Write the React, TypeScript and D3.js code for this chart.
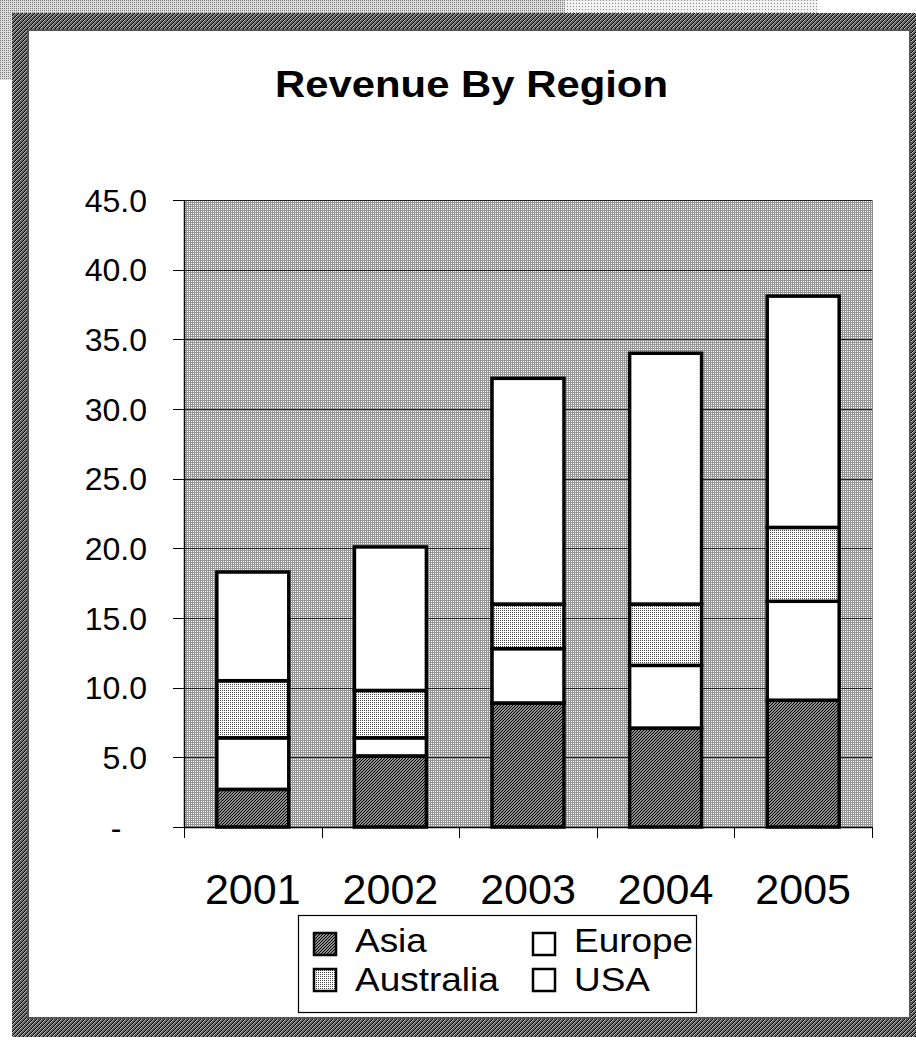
import React from "react";
import * as d3 from "d3";

const years = ["2001", "2002", "2003", "2004", "2005"];
const asia = [2.7, 5.1, 8.9, 7.1, 9.1];
const europe = [3.7, 1.3, 3.9, 4.5, 7.1];
const australia = [4.1, 3.4, 3.2, 4.4, 5.3];
const usa = [7.8, 10.3, 16.2, 18.0, 16.6];
const seriesKeys = ["Asia", "Europe", "Australia", "USA"];
const yTicks = [0, 5, 10, 15, 20, 25, 30, 35, 40, 45];
const legendOrder = [
  ["Asia", "Europe"],
  ["Australia", "USA"],
];
const title = "Revenue By Region";

const W = 916;
const H = 1042;
const plot = { left: 184, right: 872, top: 200, bottom: 827 };
const FONT = "'Liberation Sans', Arial, Helvetica, sans-serif";

const fills: Record<string, string> = {
  Asia: "url(#patAsia)",
  Europe: "#ffffff",
  Australia: "url(#patAus)",
  USA: "#ffffff",
};

export default function App() {
  const rows = years.map((y, i) => ({
    year: y,
    Asia: asia[i],
    Europe: europe[i],
    Australia: australia[i],
    USA: usa[i],
  }));
  const stacked = d3.stack<any>().keys(seriesKeys)(rows);

  const x = d3
    .scaleBand<string>()
    .domain(years)
    .range([plot.left, plot.right])
    .paddingInner(0)
    .paddingOuter(0);
  const y = d3.scaleLinear().domain([0, 45]).range([plot.bottom, plot.top]);
  const barW = x.bandwidth() * 0.523;

  const fmt = (v: number) => (v === 0 ? "-" : d3.format(".1f")(v));

  return (
    <svg
      width={W}
      height={H}
      style={{ position: "absolute", left: 0, top: 0, display: "block" }}
      xmlns="http://www.w3.org/2000/svg"
    >
      <defs>
        <pattern id="patBg" width="2" height="2" patternUnits="userSpaceOnUse">
          <rect width="2" height="2" fill="#959595" shapeRendering="crispEdges" />
          <rect x="1" y="1" width="1" height="1" fill="#ffffff" shapeRendering="crispEdges" />
        </pattern>
        <pattern id="patAus" width="2" height="2" patternUnits="userSpaceOnUse">
          <rect width="2" height="2" fill="#ffffff" shapeRendering="crispEdges" />
          <rect x="0" y="0" width="1" height="1" fill="#4a4a4a" shapeRendering="crispEdges" />
        </pattern>
        <pattern id="patAsia" width="3" height="3" patternUnits="userSpaceOnUse">
          <rect width="3" height="3" fill="#8e8e8e" shapeRendering="crispEdges" />
          <rect x="2" y="0" width="1" height="1" fill="#000" shapeRendering="crispEdges" />
          <rect x="1" y="1" width="1" height="1" fill="#000" shapeRendering="crispEdges" />
          <rect x="0" y="2" width="1" height="1" fill="#000" shapeRendering="crispEdges" />
        </pattern>
        <pattern id="patFrame" width="4" height="4" patternUnits="userSpaceOnUse">
          <rect width="4" height="4" fill="#5e5e5e" shapeRendering="crispEdges" />
          <rect x="3" y="0" width="1" height="1" fill="#000" shapeRendering="crispEdges" />
          <rect x="2" y="1" width="1" height="1" fill="#000" shapeRendering="crispEdges" />
          <rect x="1" y="2" width="1" height="1" fill="#000" shapeRendering="crispEdges" />
          <rect x="0" y="3" width="1" height="1" fill="#000" shapeRendering="crispEdges" />
          <rect x="0" y="0" width="1" height="1" fill="#b8b8b8" shapeRendering="crispEdges" />
          <rect x="3" y="1" width="1" height="1" fill="#b8b8b8" shapeRendering="crispEdges" />
          <rect x="2" y="2" width="1" height="1" fill="#b8b8b8" shapeRendering="crispEdges" />
          <rect x="1" y="3" width="1" height="1" fill="#b8b8b8" shapeRendering="crispEdges" />
        </pattern>
        <pattern id="patLight" width="2" height="2" patternUnits="userSpaceOnUse">
          <rect width="2" height="2" fill="#dedede" shapeRendering="crispEdges" />
          <rect x="0" y="0" width="1" height="1" fill="#7a7a7a" shapeRendering="crispEdges" />
        </pattern>
        <pattern id="patLighter" width="3" height="3" patternUnits="userSpaceOnUse">
          <rect width="3" height="3" fill="#f2f2f2" shapeRendering="crispEdges" />
          <rect x="0" y="0" width="1" height="1" fill="#8a8a8a" shapeRendering="crispEdges" />
        </pattern>
      </defs>

      <rect width={W} height={H} fill="#ffffff" />

      {/* light background artifacts at top-left */}
      <rect x={0} y={0} width={565} height={13} fill="url(#patLight)" />
      <rect x={565} y={0} width={253} height={13} fill="url(#patLighter)" />
      <rect x={0} y={0} width={12} height={80} fill="url(#patLight)" />

      {/* frame */}
      <rect x={12} y={13} width={W - 12} height={1037 - 13} fill="url(#patFrame)" shapeRendering="crispEdges" />
      <rect x={28} y={30} width={910 - 28} height={1018 - 30} fill="#ffffff" stroke="#555" strokeWidth={1.5} shapeRendering="crispEdges" />

      {/* title */}
      <text
        x={471.5}
        y={97}
        textAnchor="middle"
        fontFamily={FONT}
        fontWeight="bold"
        fontSize={37}
        textLength={393}
        lengthAdjust="spacingAndGlyphs"
        fill="#000"
      >
        {title}
      </text>

      {/* plot area */}
      <rect
        x={plot.left}
        y={plot.top}
        width={plot.right - plot.left}
        height={plot.bottom - plot.top}
        fill="url(#patBg)"
        stroke="#888"
        strokeWidth={1}
        shapeRendering="crispEdges"
      />

      {/* gridlines */}
      {yTicks
        .filter((t) => t > 0)
        .map((t) => (
          <line
            key={"g" + t}
            x1={plot.left}
            x2={plot.right}
            y1={Math.round(y(t)) + 0.5}
            y2={Math.round(y(t)) + 0.5}
            stroke="#222"
            strokeWidth={1}
          />
        ))}

      {/* bars */}
      {stacked.map((s) =>
        s.map((d, i) => {
          const yr = years[i];
          const cx = (x(yr) as number) + x.bandwidth() / 2;
          const y0 = y(d[0]);
          const y1 = y(d[1]);
          return (
            <rect
              key={s.key + yr}
              x={cx - barW / 2}
              y={y1}
              width={barW}
              height={y0 - y1}
              fill={fills[s.key]}
              stroke="#000"
              strokeWidth={3.5}
            />
          );
        })
      )}

      {/* axes */}
      <line x1={plot.left + 0.5} x2={plot.left + 0.5} y1={plot.top} y2={plot.bottom} stroke="#000" strokeWidth={1.5} />
      <line x1={plot.left} x2={plot.right} y1={plot.bottom + 0.5} y2={plot.bottom + 0.5} stroke="#000" strokeWidth={1.5} />

      {yTicks.map((t) => (
        <g key={"yt" + t}>
          <line
            x1={173}
            x2={plot.left}
            y1={Math.round(y(t)) + 0.5}
            y2={Math.round(y(t)) + 0.5}
            stroke="#000"
            strokeWidth={1}
          />
          <text
            x={t === 0 ? 116 : 147}
            y={y(t)}
            dy="0.36em"
            textAnchor={t === 0 ? "middle" : "end"}
            fontFamily={FONT}
            fontSize={32}
            fill="#000"
          >
            {fmt(t)}
          </text>
        </g>
      ))}

      {[...years.map((yr) => x(yr) as number), plot.right].map((px, i) => (
        <line
          key={"xt" + i}
          x1={Math.round(px) + 0.5}
          x2={Math.round(px) + 0.5}
          y1={plot.bottom}
          y2={838}
          stroke="#000"
          strokeWidth={1}
        />
      ))}

      {years.map((yr) => (
        <text
          key={"xl" + yr}
          x={(x(yr) as number) + x.bandwidth() / 2}
          y={904}
          textAnchor="middle"
          fontFamily={FONT}
          fontSize={43}
          fill="#000"
        >
          {yr}
        </text>
      ))}

      {/* legend */}
      <rect x={298.5} y={915.5} width={398} height={97} fill="#fff" stroke="#000" strokeWidth={1.2} />
      {legendOrder.map((row, r) =>
        row.map((name, c) => {
          const sx = c === 0 ? 314 : 533;
          const sy = r === 0 ? 933 : 969;
          const base = r === 0 ? 952 : 991;
          return (
            <g key={"lg" + name}>
              <rect x={sx} y={sy} width={22} height={22} fill={fills[name]} stroke="#000" strokeWidth={2.5} />
              <text
                transform={`translate(${sx + 41},${base}) scale(1.12,1)`}
                fontFamily={FONT}
                fontSize={33}
                fill="#000"
              >
                {name}
              </text>
            </g>
          );
        })
      )}
    </svg>
  );
}
